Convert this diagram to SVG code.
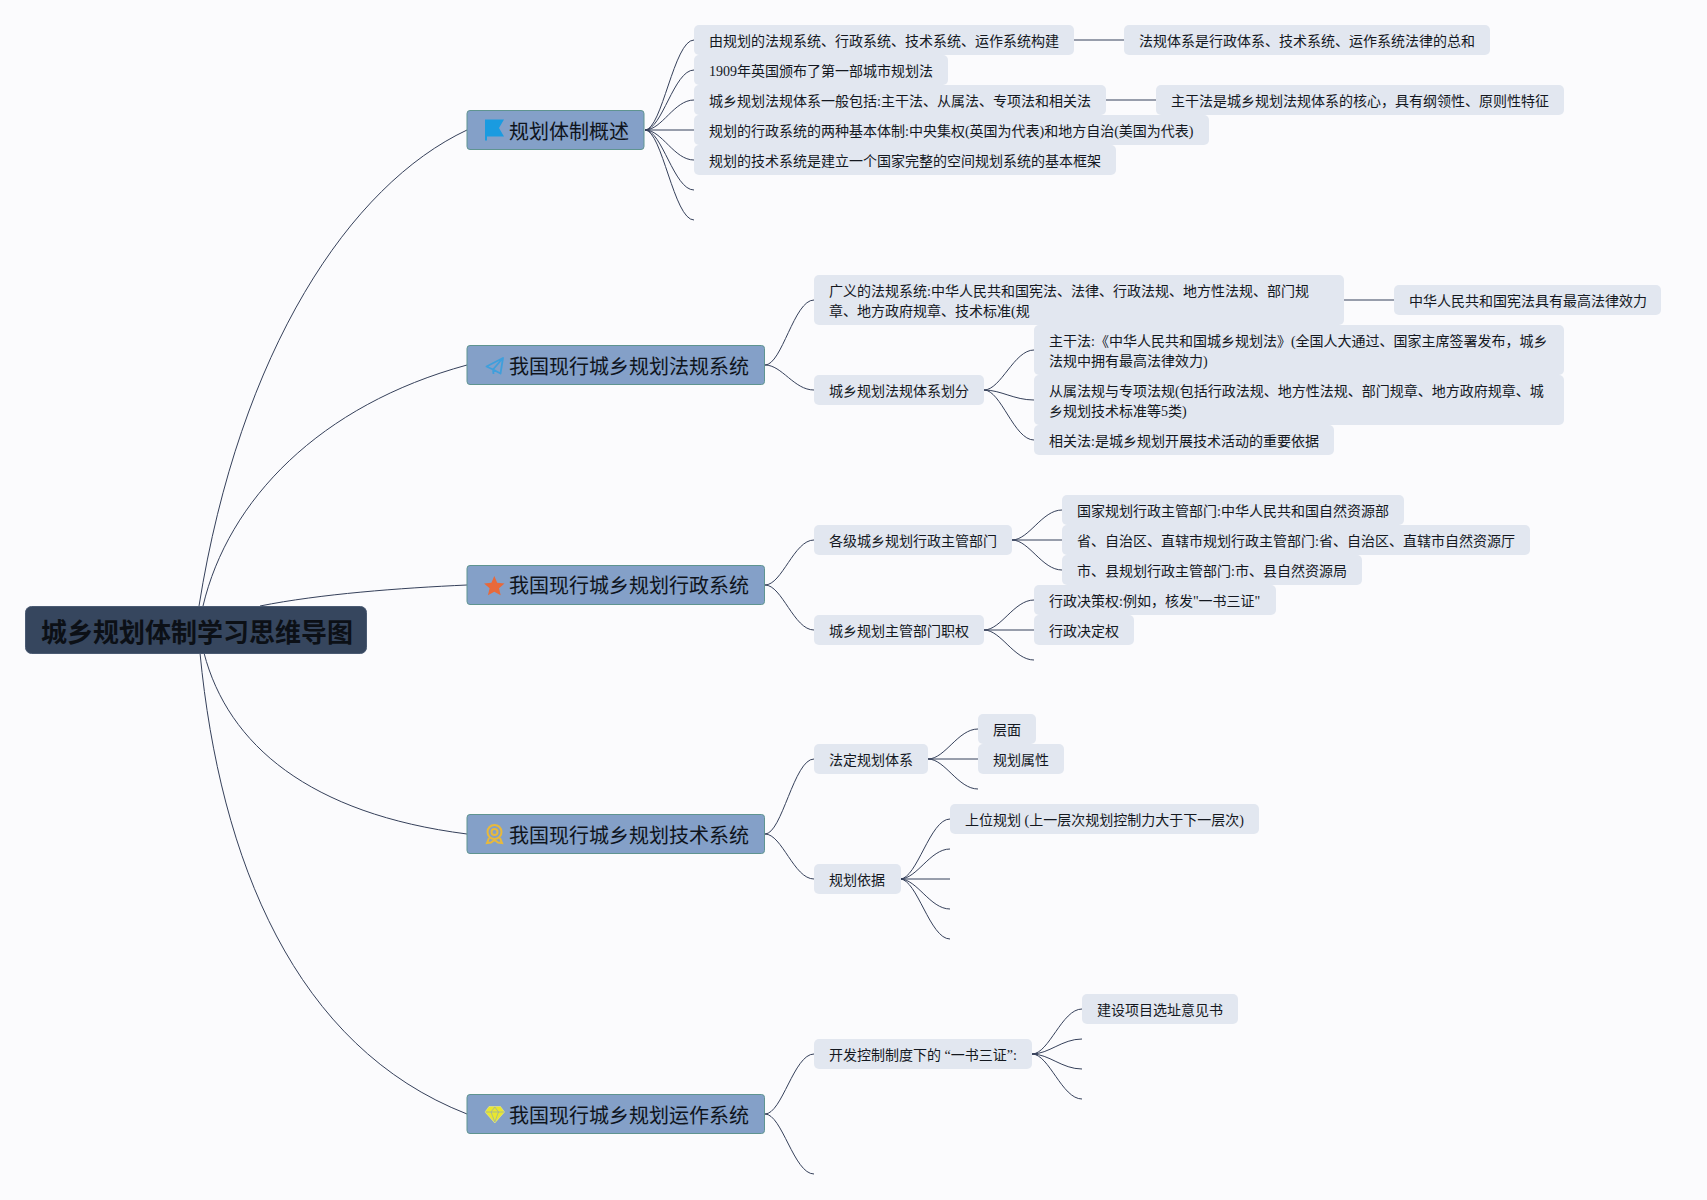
<svg xmlns="http://www.w3.org/2000/svg" width="1707" height="1200" viewBox="0 0 1707 1200">
<style>
text{font-family:"Liberation Serif","Noto Sans CJK SC",serif;font-size:14px;fill:#14181f}
.r{fill:#36465e;stroke:#4a5a72;stroke-width:1}
.r+text{font-family:"Liberation Sans","Noto Sans CJK SC",sans-serif;font-size:26px;font-weight:700;fill:#0c1016}
.m{fill:#84a0c8;stroke:#5f9490;stroke-width:1}
.m~text{font-family:"Liberation Serif","Noto Sans CJK SC",serif;font-size:20px;fill:#0f141c}
.b{fill:#e2e7f0}
.c path{fill:none;stroke:#35405a;stroke-width:1}
</style>
<rect width="1707" height="1200" fill="#fbfbfd"/>
<g id="connectors" class="c">
<path d="M199,606C240,350 350,185 467,130"/>
<path d="M203,606C228,500 320,405 467,365"/>
<path d="M260,606C320,594 400,588 467,585"/>
<path d="M204,653C228,745 310,814 467,834"/>
<path d="M200,653C220,860 295,1047 467,1114"/>
<path d="M645,130C662,130 674,40 694,40"/>
<path d="M645,130C662,130 674,70 694,70"/>
<path d="M645,130C662,130 674,100 694,100"/>
<path d="M645,130H694"/>
<path d="M645,130C662,130 674,160 694,160"/>
<path d="M645,130C662,130 674,190 694,190"/>
<path d="M645,130C662,130 674,220 694,220"/>
<path d="M1074,40H1124"/>
<path d="M1106,100H1156"/>
<path d="M765,365C782,365 794,300 814,300"/>
<path d="M765,365C782,365 794,390 814,390"/>
<path d="M1344,300H1394"/>
<path d="M984,390C1001,390 1014,350 1034,350"/>
<path d="M984,390C1001,390 1014,400 1034,400"/>
<path d="M984,390C1001,390 1014,440 1034,440"/>
<path d="M765,585C782,585 794,540 814,540"/>
<path d="M765,585C782,585 794,630 814,630"/>
<path d="M1012,540C1029,540 1042,510 1062,510"/>
<path d="M1012,540H1062"/>
<path d="M1012,540C1029,540 1042,570 1062,570"/>
<path d="M984,630C1001,630 1014,600 1034,600"/>
<path d="M984,630H1034"/>
<path d="M984,630C1001,630 1014,660 1034,660"/>
<g transform="translate(0,-1)">
<path d="M765,835C782,835 794,760 814,760"/>
<path d="M765,835C782,835 794,880 814,880"/>
<path d="M928,760C945,760 958,730 978,730"/>
<path d="M928,760H978"/>
<path d="M928,760C945,760 958,790 978,790"/>
<path d="M900,880C917,880 930,820 950,820"/>
<path d="M900,880C917,880 930,850 950,850"/>
<path d="M900,880H950"/>
<path d="M900,880C917,880 930,910 950,910"/>
<path d="M900,880C917,880 930,940 950,940"/>
<path d="M765,1115C782,1115 794,1055 814,1055"/>
<path d="M765,1115C782,1115 794,1175 814,1175"/>
<path d="M1032,1055C1049,1055 1062,1010 1082,1010"/>
<path d="M1032,1055C1049,1055 1062,1040 1082,1040"/>
<path d="M1032,1055C1049,1055 1062,1070 1082,1070"/>
<path d="M1032,1055C1049,1055 1062,1100 1082,1100"/>
</g>
</g>
<g id="root"><rect class="r" x="25.500" y="606.500" width="341" height="47" rx="6"/><text x="41" y="641.500">城乡规划体制学习思维导图</text></g>

<g id="n1"><rect class="m" x="467" y="110.500" width="177" height="39" rx="3"/><path fill="#1a9be0" d="M485,119.500H504L499,128L504,136.500H487V140.500H485Z"/><text x="509" y="138.500">规划体制概述</text></g>
<g id="n2"><rect class="m" x="467" y="345.500" width="297.500" height="39" rx="3"/><path fill="none" stroke="#3f9fdc" stroke-width="1.800" stroke-linejoin="round" d="M503,358L486.500,366.500L493,369.500L500.500,373.500ZM503,358L493,369.500L493.500,374"/><text x="509" y="373.500">我国现行城乡规划法规系统</text></g>
<g id="n3"><rect class="m" x="467" y="565.500" width="297.500" height="39" rx="3"/><path fill="#e8693a" d="M494.300,576L497.200,582.800L504.500,583.500L499,588.300L500.700,595.300L494.300,591.700L487.900,595.300L489.600,588.300L484.100,583.500L491.400,582.800Z"/><text x="509" y="593">我国现行城乡规划行政系统</text></g>
<g id="n4" transform="translate(0,-1)"><rect class="m" x="467" y="815.500" width="297.500" height="39" rx="3"/><g fill="none" stroke="#e8b93c" stroke-width="2"><circle cx="494.500" cy="833" r="7"/><circle cx="494.500" cy="833" r="3"/><path d="M489,839L487,844L491,843.500L494.500,841L498,843.500L502,844L500,839"/></g><text x="509" y="844">我国现行城乡规划技术系统</text></g>
<g id="n5" transform="translate(0,-1)"><rect class="m" x="467" y="1095.500" width="297.500" height="39" rx="3"/><path fill="#e9e72f" stroke="#f4f290" stroke-width=".5" d="M489,1107.500H500.500L504.500,1113L494.800,1124L485,1113Z"/><path fill="none" stroke="#84a0c8" stroke-width=".6" d="M485.500,1113H504M491,1113L494.800,1123L498.500,1113M491,1113L494.800,1108M498.500,1113L494.800,1108"/><text x="509" y="1124">我国现行城乡规划运作系统</text></g>

<g id="a1"><rect class="b" x="694" y="25" width="380" height="30" rx="5"/><text x="709" y="46">由规划的法规系统、行政系统、技术系统、运作系统构建</text></g>
<g id="a1a"><rect class="b" x="1124" y="25" width="366" height="30" rx="5"/><text x="1139" y="46">法规体系是行政体系、技术系统、运作系统法律的总和</text></g>
<g id="a2"><rect class="b" x="694" y="55" width="254" height="30" rx="5"/><text x="709" y="76">1909年英国颁布了第一部城市规划法</text></g>
<g id="a3"><rect class="b" x="694" y="85" width="412" height="30" rx="5"/><text x="709" y="106">城乡规划法规体系一般包括:主干法、从属法、专项法和相关法</text></g>
<g id="a3a"><rect class="b" x="1156" y="85" width="408" height="30" rx="5"/><text x="1171" y="106">主干法是城乡规划法规体系的核心，具有纲领性、原则性特征</text></g>
<g id="a4"><rect class="b" x="694" y="115" width="515" height="30" rx="5"/><text x="709" y="136">规划的行政系统的两种基本体制:中央集权(英国为代表)和地方自治(美国为代表)</text></g>
<g id="a5"><rect class="b" x="694" y="145" width="422" height="30" rx="5"/><text x="709" y="166">规划的技术系统是建立一个国家完整的空间规划系统的基本框架</text></g>

<g id="b1"><rect class="b" x="814" y="275" width="530" height="50" rx="5"/><text x="829" y="296">广义的法规系统:中华人民共和国宪法、法律、行政法规、地方性法规、部门规</text><text x="829" y="316">章、地方政府规章、技术标准(规</text></g>
<g id="b1a"><rect class="b" x="1394" y="285" width="267" height="30" rx="5"/><text x="1409" y="306">中华人民共和国宪法具有最高法律效力</text></g>
<g id="b2"><rect class="b" x="814" y="375" width="170" height="30" rx="5"/><text x="829" y="396">城乡规划法规体系划分</text></g>
<g id="b2a"><rect class="b" x="1034" y="325" width="530" height="50" rx="5"/><text x="1049" y="346">主干法:《中华人民共和国城乡规划法》(全国人大通过、国家主席签署发布，城乡</text><text x="1049" y="366">法规中拥有最高法律效力)</text></g>
<g id="b2b"><rect class="b" x="1034" y="375" width="530" height="50" rx="5"/><text x="1049" y="396">从属法规与专项法规(包括行政法规、地方性法规、部门规章、地方政府规章、城</text><text x="1049" y="416">乡规划技术标准等5类)</text></g>
<g id="b2c"><rect class="b" x="1034" y="425" width="300" height="30" rx="5"/><text x="1049" y="446">相关法:是城乡规划开展技术活动的重要依据</text></g>

<g id="c1"><rect class="b" x="814" y="525" width="198" height="30" rx="5"/><text x="829" y="546">各级城乡规划行政主管部门</text></g>
<g id="c1a"><rect class="b" x="1062" y="495" width="342" height="30" rx="5"/><text x="1077" y="516">国家规划行政主管部门:中华人民共和国自然资源部</text></g>
<g id="c1b"><rect class="b" x="1062" y="525" width="468" height="30" rx="5"/><text x="1077" y="546">省、自治区、直辖市规划行政主管部门:省、自治区、直辖市自然资源厅</text></g>
<g id="c1c"><rect class="b" x="1062" y="555" width="300" height="30" rx="5"/><text x="1077" y="576">市、县规划行政主管部门:市、县自然资源局</text></g>
<g id="c2"><rect class="b" x="814" y="615" width="170" height="30" rx="5"/><text x="829" y="636">城乡规划主管部门职权</text></g>
<g id="c2a"><rect class="b" x="1034" y="585" width="242" height="30" rx="5"/><text x="1049" y="606">行政决策权:例如，核发"一书三证"</text></g>
<g id="c2b"><rect class="b" x="1034" y="615" width="100" height="30" rx="5"/><text x="1049" y="636">行政决定权</text></g>

<g id="d1" transform="translate(0,-1)"><rect class="b" x="814" y="745" width="114" height="30" rx="5"/><text x="829" y="766">法定规划体系</text></g>
<g id="d1a" transform="translate(0,-1)"><rect class="b" x="978" y="715" width="58" height="30" rx="5"/><text x="993" y="736">层面</text></g>
<g id="d1b" transform="translate(0,-1)"><rect class="b" x="978" y="745" width="86" height="30" rx="5"/><text x="993" y="766">规划属性</text></g>
<g id="d2" transform="translate(0,-1)"><rect class="b" x="814" y="865" width="87" height="30" rx="5"/><text x="829" y="886">规划依据</text></g>
<g id="d2a" transform="translate(0,-1)"><rect class="b" x="950" y="805" width="309" height="30" rx="5"/><text x="965" y="826">上位规划 (上一层次规划控制力大于下一层次)</text></g>

<g id="e1" transform="translate(0,-1)"><rect class="b" x="814" y="1040" width="218" height="30" rx="5"/><text x="829" y="1061">开发控制制度下的 “一书三证”:</text></g>
<g id="e1a" transform="translate(0,-1)"><rect class="b" x="1082" y="995" width="156" height="30" rx="5"/><text x="1097" y="1016">建设项目选址意见书</text></g>
</svg>
